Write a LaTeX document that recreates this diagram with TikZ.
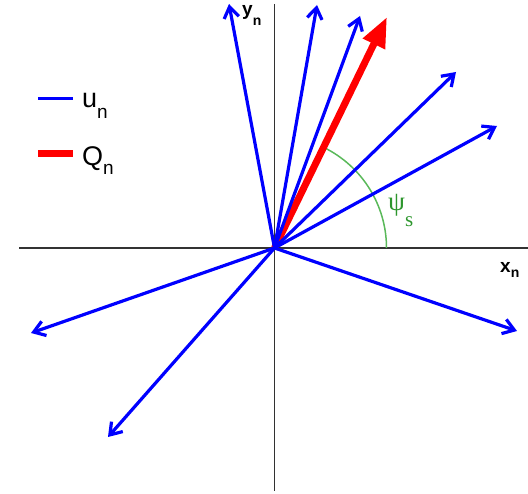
\documentclass[tikz,border=0pt]{standalone}
\usepackage{fontspec}
\setmainfont{Liberation Sans}
\newfontfamily\serifgr{Liberation Serif}
\usetikzlibrary{arrows.meta,calc}
\definecolor{ublue}{RGB}{0,0,255}
\definecolor{qred}{RGB}{255,0,0}
\definecolor{arcgreen}{RGB}{90,185,90}
\definecolor{lblgreen}{RGB}{45,150,45}
\definecolor{axisgray}{RGB}{50,50,50}
\tikzset{
  axisline/.style={axisgray, line width=1.4pt},
  uvec/.style={ublue, line width=3.2pt, -{Straight Barb[length=11pt,width=15pt]}},
  qvec/.style={qred, line width=7pt, -{Triangle[length=30pt,width=23pt]}},
  anglearc/.style={arcgreen, line width=1.5pt},
  leglbl/.style={anchor=base west, inner sep=0pt, font=\fontsize{27}{32}\selectfont},
  axlbl/.style={anchor=base west, inner sep=0pt, font=\fontsize{19}{23}\selectfont\bfseries},
}
\begin{document}
\begin{tikzpicture}[x=1pt,y=-1pt]
\useasboundingbox (0,0) rectangle (528,494);
% coordinates
\coordinate (O) at (274.5,248);
\coordinate (axL) at (19,248);
\coordinate (axR) at (528,248);
\coordinate (axT) at (274.5,4);
\coordinate (axB) at (274.5,491);
\coordinate (u1) at (229,4);
\coordinate (u2) at (317,5);
\coordinate (u3) at (360,16);
\coordinate (q) at (387,17);
\coordinate (u4) at (456,72);
\coordinate (u5) at (497,126);
\coordinate (u6) at (517,331);
\coordinate (u7) at (31,333);
\coordinate (u8) at (108,437);
\coordinate (arc0) at (386.5,248);
% axes
\draw[axisline] (axL) -- (axR);
\draw[axisline] (axT) -- (axB);
% angle arc
\draw[anglearc] (arc0) arc[start angle=0, end angle=-64, radius=112];
% red vector
\draw[qvec] (O) -- (q);
% blue vectors
\foreach \t in {u1,u2,u3,u4,u5,u6,u7,u8} \draw[uvec] (O) -- (\t);
% labels
\node[axlbl] (xn) at (500,273) {x\raisebox{-5pt}{\fontsize{14}{16}\selectfont n}};
\node[axlbl] (yn) at (242,16) {y\raisebox{-10pt}{\fontsize{14}{16}\selectfont n}};
\node[anchor=base west, inner sep=0pt, text=lblgreen] (psi) at (388,211)
  {\serifgr\fontsize{27}{30}\selectfont ψ\raisebox{-16pt}{\fontsize{21}{24}\selectfont s}};
% legend
\coordinate (lb1) at (38,98.5);
\coordinate (lb2) at (73,98.5);
\coordinate (lr1) at (38,153.5);
\coordinate (lr2) at (73,153.5);
\draw[ublue, line width=3.2pt] (lb1) -- (lb2);
\draw[qred, line width=7pt] (lr1) -- (lr2);
\node[leglbl] (lu) at (82,108) {u\raisebox{-11pt}{\fontsize{19}{22}\selectfont n}};
\node[leglbl] (lq) at (82,166) {Q\raisebox{-9pt}{\fontsize{19}{22}\selectfont n}};
\end{tikzpicture}
\end{document}
